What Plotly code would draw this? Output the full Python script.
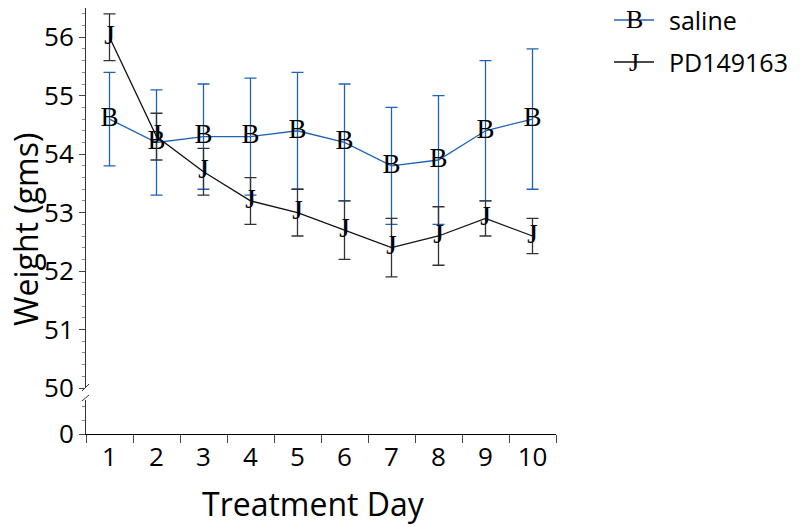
import plotly.graph_objects as go

days = [1, 2, 3, 4, 5, 6, 7, 8, 9, 10]
day_labels = ["1", "2", "3", "4", "5", "6", "7", "8", "9", "10"]

saline = [54.6, 54.2, 54.3, 54.3, 54.4, 54.2, 53.8, 53.9, 54.4, 54.6]
saline_err = [0.8, 0.9, 0.9, 1.0, 1.0, 1.0, 1.0, 1.1, 1.2, 1.2]

pd149163 = [56.0, 54.3, 53.7, 53.2, 53.0, 52.7, 52.4, 52.6, 52.9, 52.6]
pd_err = [0.4, 0.4, 0.4, 0.4, 0.4, 0.5, 0.5, 0.5, 0.3, 0.3]

series_names = ["saline", "PD149163"]
series_letters = ["B", "J"]

BLUE = "#1f63b5"
BLACK = "#111111"
SANS = "Open Sans"
SERIF = "Liberation Serif"

# page offset (browser default body margin)
OFF = 8
W, H = 800 - OFF, 527 - OFF
# plot area in page pixels
PX0, PX1, PY0, PY1 = 86, 556, 8, 434
L, R = PX0 - OFF, W - (PX1 - OFF)
T, B = PY0 - OFF, H - (PY1 - OFF)
pw, ph = PX1 - PX0, PY1 - PY0


def px(xp):
    return (xp - PX0) / pw


def py(yp):
    return (PY1 - yp) / ph


fig = go.Figure()

fig.add_trace(go.Scatter(
    x=days, y=saline, mode="lines+text", text=[series_letters[0]] * len(days),
    textposition="middle center", textfont=dict(family=SERIF, size=27, color="black"),
    line=dict(color=BLUE, width=1.3), name=series_names[0], showlegend=False,
    error_y=dict(type="data", array=saline_err, visible=True, color=BLUE, thickness=1.3, width=6),
    xaxis="x", yaxis="y", hoverinfo="skip",
))
fig.add_trace(go.Scatter(
    x=days, y=pd149163, mode="lines+text", text=[series_letters[1]] * len(days),
    textposition="middle center", textfont=dict(family=SERIF, size=27, color="black"),
    line=dict(color=BLACK, width=1.3), name=series_names[1], showlegend=False,
    error_y=dict(type="data", array=pd_err, visible=True, color="#333333", thickness=1.3, width=6),
    xaxis="x", yaxis="y", hoverinfo="skip",
))
# empty trace so the lower (zero) axis segment is drawn
fig.add_trace(go.Scatter(
    x=days, y=[None] * len(days), mode="lines", showlegend=False,
    xaxis="x", yaxis="y2", hoverinfo="skip",
))

up_start = py(388)
low_end = py(400)

fig.update_layout(
    width=W, height=H,
    margin=dict(l=L, r=R, t=T, b=B, pad=0),
    paper_bgcolor="white", plot_bgcolor="white",
    font=dict(family=SANS, color="black"),
    showlegend=False,
    xaxis=dict(
        range=[0.5, 10.5], anchor="y2", automargin=False,
        tickmode="array", tickvals=days, ticktext=day_labels,
        ticks="", ticklen=0,
        tickfont=dict(family=SANS, size=26),
        showline=True, linecolor="black", linewidth=1,
        showgrid=False, zeroline=False,
        minor=dict(tickmode="array", tickvals=[d - 0.5 for d in days] + [10.5],
                   ticks="outside", ticklen=8, tickcolor="#444444", tickwidth=1, showgrid=False),
    ),
    yaxis=dict(
        domain=[up_start, 1], range=[50, 56.5], anchor="x", automargin=False,
        tickmode="array", tickvals=[50, 51, 52, 53, 54, 55, 56],
        ticks="outside", ticklen=6, tickcolor="#444444", tickwidth=1,
        tickfont=dict(family=SANS, size=26),
        showline=True, linecolor="#333333", linewidth=1,
        showgrid=False, zeroline=False,
        minor=dict(dtick=0.2, tick0=50, ticks="outside", ticklen=3, tickcolor="#888888", showgrid=False),
    ),
    yaxis2=dict(
        domain=[0, low_end], range=[0, 2.5], anchor="x", automargin=False,
        tickmode="array", tickvals=[0],
        ticks="outside", ticklen=6, tickcolor="#444444", tickwidth=1,
        tickfont=dict(family=SANS, size=26),
        showline=True, linecolor="#333333", linewidth=1,
        showgrid=False, zeroline=False,
        minor=dict(dtick=1, tick0=0, ticks="outside", ticklen=3, tickcolor="#888888", showgrid=False),
    ),
)

# axis titles
fig.add_annotation(
    text="Weight (gms)", xref="paper", yref="paper",
    x=px(25), y=py(230), xanchor="center", yanchor="middle", textangle=-90,
    showarrow=False, font=dict(family=SANS, size=32),
)
fig.add_annotation(
    text="Treatment Day", xref="paper", yref="paper",
    x=px(313), y=py(503), xanchor="center", yanchor="middle",
    showarrow=False, font=dict(family=SANS, size=32),
)

# axis break marks
for (x0, y0, x1, y1) in [(82, 391, 89, 384), (82, 401, 89, 395)]:
    fig.add_shape(type="line", xref="paper", yref="paper",
                  x0=px(x0), y0=py(y0), x1=px(x1), y1=py(y1),
                  line=dict(color="#333333", width=1))

# manual legend
legend_rows = [(20, BLUE, series_letters[0], series_names[0]),
               (62, BLACK, series_letters[1], series_names[1])]
for yrow, col, letter, name in legend_rows:
    fig.add_shape(type="line", xref="paper", yref="paper",
                  x0=px(614), x1=px(654), y0=py(yrow), y1=py(yrow),
                  line=dict(color=col, width=1.3))
    fig.add_annotation(text=letter, xref="paper", yref="paper", x=px(634), y=py(yrow),
                       xanchor="center", yanchor="middle", showarrow=False,
                       font=dict(family=SERIF, size=26, color="black"))
    fig.add_annotation(text=name, xref="paper", yref="paper", x=px(667), y=py(yrow),
                       xanchor="left", yanchor="middle", showarrow=False,
                       font=dict(family=SANS, size=25, color="black"))

fig.write_html("out.html")
